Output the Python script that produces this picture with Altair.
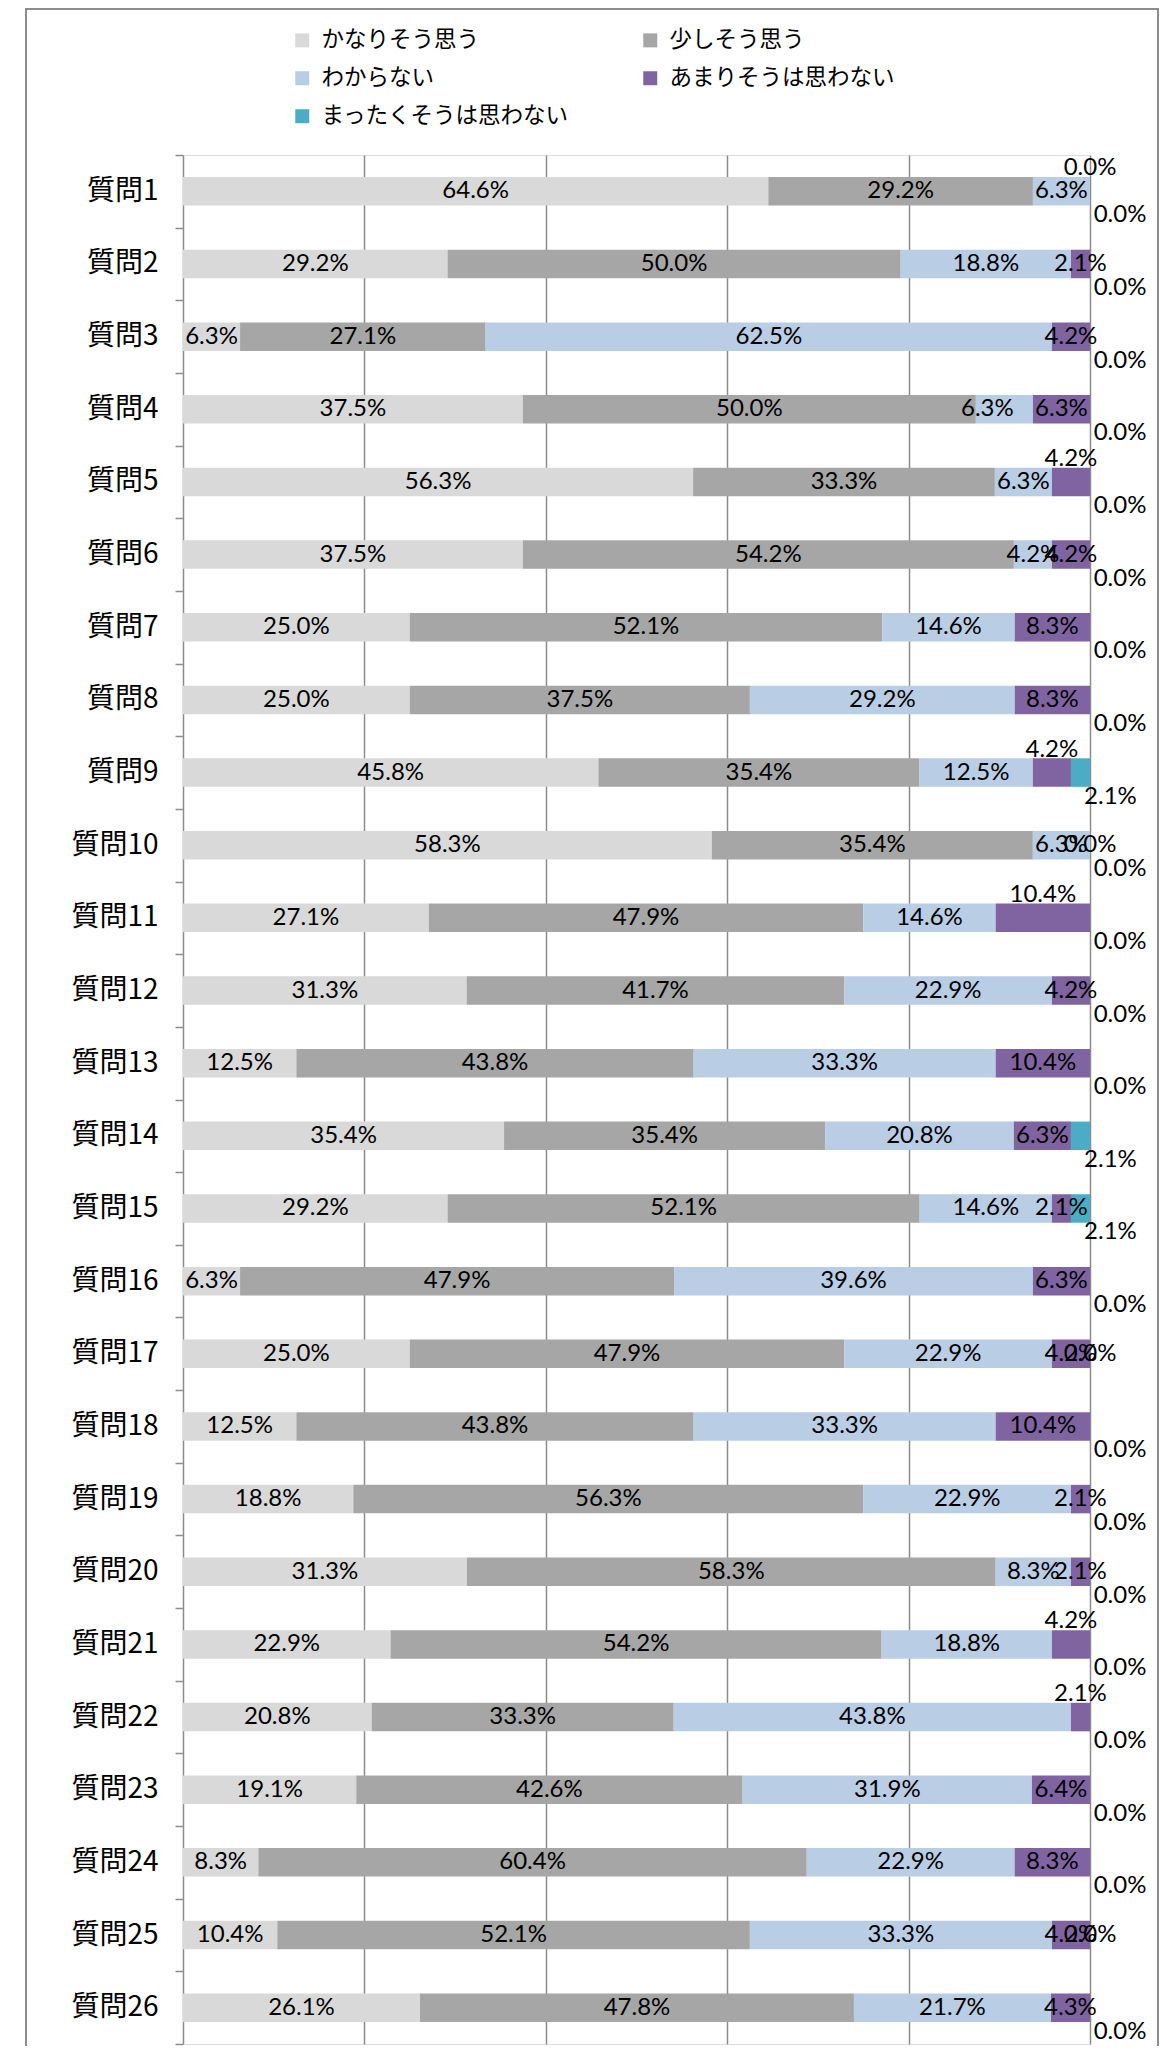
import altair as alt
import pandas as pd

QUESTIONS = ["質問1", "質問2", "質問3", "質問4", "質問5", "質問6", "質問7", "質問8", "質問9",
             "質問10", "質問11", "質問12", "質問13", "質問14", "質問15", "質問16", "質問17",
             "質問18", "質問19", "質問20", "質問21", "質問22", "質問23", "質問24", "質問25", "質問26"]
CATEGORIES = ["かなりそう思う", "少しそう思う", "わからない", "あまりそうは思わない", "まったくそうは思わない"]

V_KANARI = [64.6, 29.2, 6.3, 37.5, 56.3, 37.5, 25.0, 25.0, 45.8, 58.3, 27.1, 31.3, 12.5,
            35.4, 29.2, 6.3, 25.0, 12.5, 18.8, 31.3, 22.9, 20.8, 19.1, 8.3, 10.4, 26.1]
V_SUKOSHI = [29.2, 50.0, 27.1, 50.0, 33.3, 54.2, 52.1, 37.5, 35.4, 35.4, 47.9, 41.7, 43.8,
             35.4, 52.1, 47.9, 47.9, 43.8, 56.3, 58.3, 54.2, 33.3, 42.6, 60.4, 52.1, 47.8]
V_WAKARANAI = [6.3, 18.8, 62.5, 6.3, 6.3, 4.2, 14.6, 29.2, 12.5, 6.3, 14.6, 22.9, 33.3,
               20.8, 14.6, 39.6, 22.9, 33.3, 22.9, 8.3, 18.8, 43.8, 31.9, 22.9, 33.3, 21.7]
V_AMARI = [0.0, 2.1, 4.2, 6.3, 4.2, 4.2, 8.3, 8.3, 4.2, 0.0, 10.4, 4.2, 10.4,
           6.3, 2.1, 6.3, 4.2, 10.4, 2.1, 2.1, 4.2, 2.1, 6.4, 8.3, 4.2, 4.3]
V_MATTAKU = [0.0, 0.0, 0.0, 0.0, 0.0, 0.0, 0.0, 0.0, 2.1, 0.0, 0.0, 0.0, 0.0,
             2.1, 2.1, 0.0, 0.0, 0.0, 0.0, 0.0, 0.0, 0.0, 0.0, 0.0, 0.0, 0.0]
SERIES = [V_KANARI, V_SUKOSHI, V_WAKARANAI, V_AMARI, V_MATTAKU]

# --- styling (label placement as in the original, colours, fonts) ---
COLORS = ["#D9D9D9", "#A6A6A6", "#B9CDE5", "#8064A2", "#4BACC6"]
# label placement: c = centred on segment, l = nudged left, a = above the bar,
# b = below-right of the bar end
WAKARANAI_LABEL_POS = ["c", "c", "c", "l", "c", "c", "c", "c", "c", "c", "c", "c", "c",
                       "c", "c", "c", "c", "c", "c", "c", "c", "c", "c", "c", "c", "c"]
AMARI_LABEL_POS = ["a", "c", "c", "c", "a", "c", "c", "c", "a", "c", "a", "c", "c",
                   "c", "c", "c", "c", "c", "c", "c", "a", "a", "c", "c", "c", "c"]
MATTAKU_LABEL_POS = ["b", "b", "b", "b", "b", "b", "b", "b", "b", "b", "b", "b", "b",
                     "b", "b", "b", "c", "b", "b", "b", "b", "b", "b", "b", "c", "b"]
AXIS_GRAY = "#8c8c8c"
JP_FONT = "Noto Sans CJK JP"
NUM_FONT = "Lato"

rows = []
for i, q in enumerate(QUESTIONS):
    for k, (cat, vals) in enumerate(zip(CATEGORIES, SERIES)):
        pos = "c"
        if k == 2:
            pos = WAKARANAI_LABEL_POS[i]
        elif k == 3:
            pos = AMARI_LABEL_POS[i]
        elif k == 4:
            pos = MATTAKU_LABEL_POS[i]
        rows.append({"q": q, "cat": cat, "k": k, "v": vals[i], "pos": pos})
df = pd.DataFrame(rows)

X_SCALE = alt.Scale(domain=[0, 1], nice=False, zero=True)
X_AXIS = alt.Axis(values=[0.2, 0.4, 0.6, 0.8, 1.0], labels=False, ticks=False, domain=False,
                  grid=True, gridColor=AXIS_GRAY, gridWidth=1.5, title=None)
Y_SCALE = alt.Scale(paddingInner=0, paddingOuter=0)
Y_AXIS = alt.Axis(title=None, labelFont=JP_FONT, labelFontSize=28, labelColor="black",
                  labelPadding=17, tickSize=8, tickColor=AXIS_GRAY, tickWidth=1.5,
                  domainColor=AXIS_GRAY, domainWidth=1.5, tickBand="extent", grid=False,
                  labelAlign="right")

base = alt.Chart(df).transform_stack(
    stack="v", groupby=["q"], as_=["x0", "x1"], offset="normalize",
    sort=[alt.SortField("k", order="ascending")]
).transform_calculate(
    mid="(datum.x0 + datum.x1) / 2",
    label="format(datum.v / 100, '.1%')"
)

bars = base.mark_bar(size=28.5).encode(
    x=alt.X("x0:Q", scale=X_SCALE, axis=X_AXIS),
    x2="x1:Q",
    y=alt.Y("q:N", sort=QUESTIONS, scale=Y_SCALE, axis=Y_AXIS),
    color=alt.Color("cat:N", scale=alt.Scale(domain=CATEGORIES, range=COLORS),
                    legend=alt.Legend(orient="none", legendX=108, legendY=-126, columns=2,
                                      direction="horizontal",
                                      title=None, symbolType="square", symbolSize=196,
                                      symbolStrokeWidth=0, labelFont=JP_FONT,
                                      labelFontSize=22.5, labelColor="black", labelOffset=8,
                                      columnPadding=69, rowPadding=15, padding=0,
                                      labelLimit=0)),
)


def labels(pos, dx, dy):
    return base.transform_filter(alt.datum.pos == pos).mark_text(
        font=NUM_FONT, fontSize=24, color="black", dx=dx, dy=dy,
        align="center", baseline="middle"
    ).encode(
        x=alt.X("mid:Q", scale=X_SCALE, axis=X_AXIS),
        y=alt.Y("q:N", sort=QUESTIONS, scale=Y_SCALE, axis=Y_AXIS),
        text="label:N",
    )


frame_data = alt.Data(values=[{"f": 0}])
frame_left = alt.Chart(frame_data).mark_rule(color=AXIS_GRAY, strokeWidth=2).encode(
    x=alt.value(-157), y=alt.value(-146), y2=alt.value(1900))
frame_right = alt.Chart(frame_data).mark_rule(color=AXIS_GRAY, strokeWidth=2).encode(
    x=alt.value(975), y=alt.value(-146), y2=alt.value(1900))
frame_top = alt.Chart(frame_data).mark_rule(color=AXIS_GRAY, strokeWidth=2).encode(
    x=alt.value(-158), x2=alt.value(976), y=alt.value(-146))

chart = alt.layer(
    bars, labels("c", 0, 0), labels("l", -17, 0), labels("a", 0, -23), labels("b", 30, 24),
    frame_left, frame_right, frame_top
).properties(
    width=907, height=1889,
    autosize=alt.AutoSizeParams(type="none"),
    padding={"left": 175, "top": 147, "right": 76, "bottom": 2},
).configure_view(stroke=None).configure(background="white")

chart.save("out.html", embed_options={"renderer": "svg", "actions": False})
